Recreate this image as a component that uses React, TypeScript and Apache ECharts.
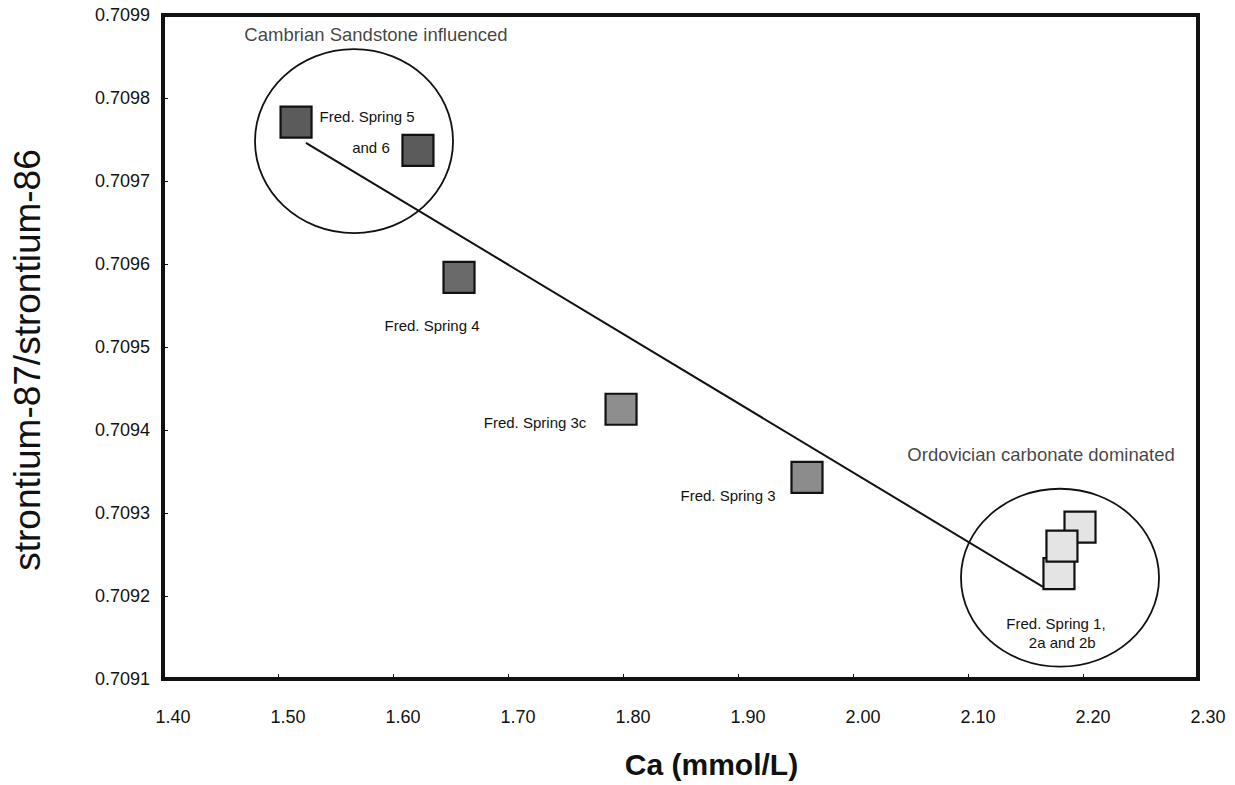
import React, { useEffect, useRef } from "react";
import * as echarts from "echarts";

// Spring samples: Ca concentration (mmol/L) and 87Sr/86Sr ratio
const sampleNames = [
  "Fred. Spring 5",
  "Fred. Spring 6",
  "Fred. Spring 4",
  "Fred. Spring 3c",
  "Fred. Spring 3",
  "Fred. Spring 1",
  "Fred. Spring 2b",
  "Fred. Spring 2a",
];
const caValues = [1.5157, 1.6217, 1.6574, 1.7983, 1.96, 2.1974, 2.1791, 2.1817];
const srRatios = [0.709771, 0.709737, 0.709584, 0.709425, 0.709343, 0.709283, 0.709227, 0.70926];
const fillColors = ["#5b5b5b", "#5b5b5b", "#6a6a6a", "#8e8e8e", "#8c8c8c", "#e4e4e4", "#e4e4e4", "#e4e4e4"];

// Mixing line between the two end members
const mixCa = [1.5243, 2.1652];
const mixSr = [0.709746, 0.709211];

// Grouping ellipses: centre Ca, centre Sr, Ca radius, Sr radius
const groupCa = [1.5661, 2.18];
const groupSr = [0.709748, 0.709222];
const groupCaRadius = [0.0861, 0.0861];
const groupSrRadius = [0.0001108, 0.0001072];

// Group captions
const groupLabels = ["Cambrian Sandstone influenced", "Ordovician carbonate dominated"];
const groupLabelCa = [1.5852, 2.1635];
const groupLabelSr = [0.709877, 0.70937];

const FONT = "'Liberation Sans', Arial, Helvetica, sans-serif";

export default function App() {
  const ref = useRef<HTMLDivElement>(null);

  useEffect(() => {
    if (!ref.current) return;
    const chart = echarts.init(ref.current, undefined, { renderer: "svg" });

    // label text and its offset from the marker centre for each sample
    const labelSpec: Record<number, { text: string; offset: [number, number] }> = {
      0: { text: "Fred. Spring 5", offset: [71, -6] },
      1: { text: "and 6", offset: [-47, -3] },
      2: { text: "Fred. Spring 4", offset: [-27, 48] },
      3: { text: "Fred. Spring 3c", offset: [-86, 13] },
      4: { text: "Fred. Spring 3", offset: [-79, 18] },
      6: { text: "Fred. Spring 1,\n   2a and 2b", offset: [-3, 59] },
    };

    const sampleData = caValues.map((ca, i) => {
      const spec = labelSpec[i];
      return {
        name: sampleNames[i],
        value: [ca, srRatios[i]],
        itemStyle: { color: fillColors[i] },
        label: spec
          ? {
              show: true,
              position: "inside",
              formatter: spec.text,
              offset: spec.offset,
              color: "#111",
              fontSize: 15,
              lineHeight: 19,
              fontFamily: FONT,
            }
          : { show: false },
      };
    });

    const ellipseData = groupCa.map((c, i) => [c, groupSr[i], groupCaRadius[i], groupSrRadius[i]]);

    const captionData = groupLabels.map((t, i) => ({ name: t, value: [groupLabelCa[i], groupLabelSr[i]] }));

    chart.setOption({
      animation: false,
      backgroundColor: "#ffffff",
      grid: {
        left: 163,
        right: 37,
        top: 15,
        bottom: 106,
        show: true,
        borderColor: "#111",
        borderWidth: 4,
        backgroundColor: "transparent",
      },
      xAxis: {
        type: "value",
        min: 1.4,
        max: 2.3,
        interval: 0.1,
        name: "Ca (mmol/L)",
        nameLocation: "middle",
        nameGap: 70,
        nameTextStyle: {
          fontFamily: FONT,
          fontWeight: "bold",
          fontSize: 30,
          color: "#111",
          padding: [0, 0, 0, 62],
        },
        axisLine: { show: true, lineStyle: { color: "#111", width: 4 } },
        axisTick: { show: true, inside: true, length: 5, lineStyle: { color: "#111", width: 1 } },
        splitLine: { show: false },
        axisLabel: {
          formatter: (v: number) => v.toFixed(2),
          fontFamily: FONT,
          fontSize: 18,
          color: "#111",
          margin: 29,
          padding: [0, 0, 0, 20],
        },
      },
      yAxis: {
        type: "value",
        min: 0.7091,
        max: 0.7099,
        interval: 0.0001,
        name: "strontium-87/strontium-86",
        nameLocation: "middle",
        nameGap: 117,
        nameRotate: 90,
        nameTextStyle: {
          fontFamily: FONT,
          fontSize: 37,
          color: "#111",
          padding: [0, 26, 0, 0],
        },
        axisLine: { show: true, lineStyle: { color: "#111", width: 4 } },
        axisTick: { show: true, inside: true, length: 5, lineStyle: { color: "#111", width: 1 } },
        splitLine: { show: false },
        axisLabel: {
          formatter: (v: number) => v.toFixed(4),
          fontFamily: FONT,
          fontSize: 18,
          color: "#111",
          margin: 13,
        },
      },
      series: [
        {
          type: "custom",
          name: "groups",
          coordinateSystem: "cartesian2d",
          data: ellipseData,
          encode: { x: 0, y: 1 },
          clip: false,
          silent: true,
          z: 1,
          renderItem: (_params: any, api: any) => {
            const cx = api.value(0);
            const cy = api.value(1);
            const c = api.coord([cx, cy]);
            const e = api.coord([cx + api.value(2), cy + api.value(3)]);
            return {
              type: "ellipse",
              shape: { cx: c[0], cy: c[1], rx: Math.abs(e[0] - c[0]), ry: Math.abs(c[1] - e[1]) },
              style: { fill: "none", stroke: "#111", lineWidth: 1.8 },
            };
          },
        },
        {
          type: "line",
          name: "mixing line",
          data: mixCa.map((c, i) => [c, mixSr[i]]),
          symbol: "none",
          lineStyle: { color: "#111", width: 2 },
          z: 2,
          silent: true,
        },
        {
          type: "scatter",
          name: "samples",
          data: sampleData,
          symbol: "rect",
          symbolSize: 31,
          itemStyle: { borderColor: "#111", borderWidth: 2.2, opacity: 1 },
          z: 3,
          emphasis: { disabled: true },
        },
        {
          type: "scatter",
          name: "captions",
          data: captionData,
          symbolSize: 0,
          silent: true,
          z: 4,
          label: {
            show: true,
            position: "inside",
            formatter: "{b}",
            fontFamily: FONT,
            fontSize: 18.5,
            color: "#111",
          },
        },
      ],
    });

    return () => chart.dispose();
  }, []);

  return (
    <div
      ref={ref}
      style={{ position: "fixed", left: 0, top: 0, width: 1235, height: 785, background: "#fff" }}
    />
  );
}
